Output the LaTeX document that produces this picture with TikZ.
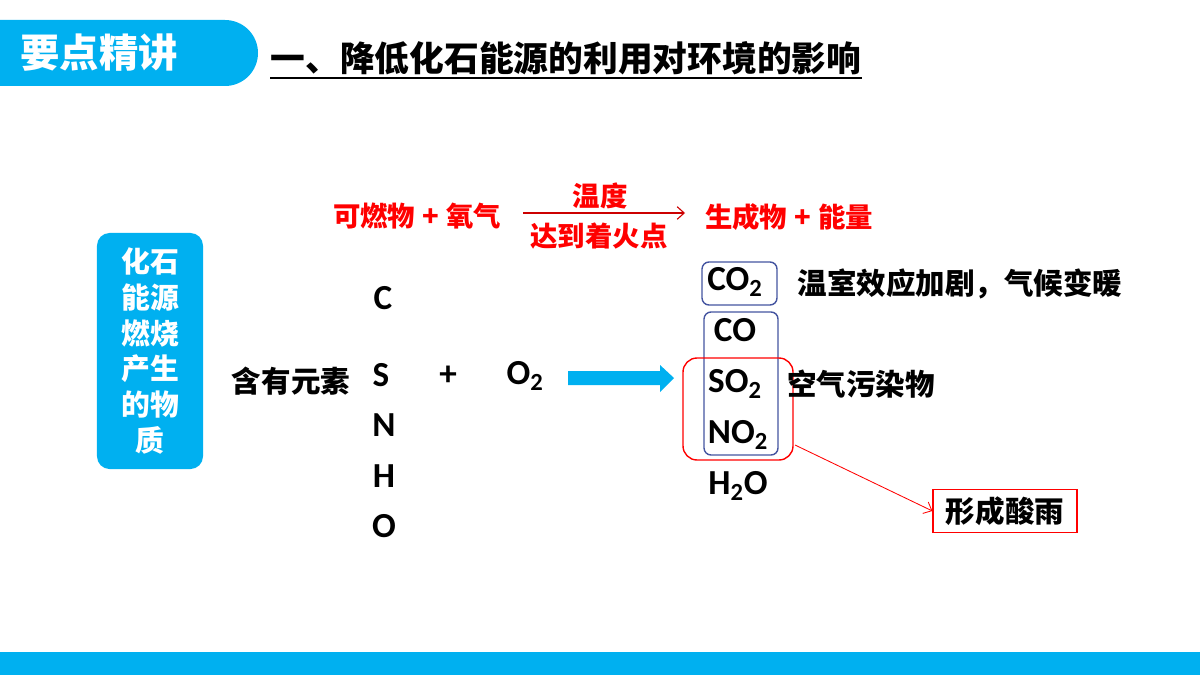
\documentclass[tikz,border=0pt]{standalone}
\usepackage{fontspec}
\setmainfont{Carlito}
\newfontfamily\cjk{Noto Sans CJK SC}
\usetikzlibrary{arrows.meta}
\definecolor{skyblue}{RGB}{0,176,240}
\definecolor{boxblue}{RGB}{68,84,160}
\tikzset{
  cn/.style={font=\cjk\bfseries\fontsize{#1}{#1}\selectfont, inner sep=0pt},
  cn/.default=21,
  red cn/.style={cn=19.5, text=red},
  chem/.style={font=\bfseries\fontsize{25}{25}\selectfont, inner sep=0pt},
  bluebox/.style={draw=boxblue, line width=1pt, rounded corners=5pt},
  redbox/.style={draw=red, line width=1pt, rounded corners=10pt},
}
\begin{document}
\begin{tikzpicture}[x=0.025cm, y=-0.025cm]
		\useasboundingbox (0,0) rectangle (1200,675);
		%%%%% header %%%%%
		\fill[skyblue] (0,20) -- (225,20) arc[start angle=-90, end angle=90, radius=33] -- (0,86) -- cycle;
		\node[cn=28, text=white] (tab) at (99,53) {要点精讲};
		\node[cn=24.7] (heading) at (566,58) {一、降低化石能源的利用对环境的影响};
		\draw[line width=1.5pt] (270,78) -- (862,78);
		
		%%%%% word equation %%%%%
		\node[red cn] (lhs) at (417,216) {可燃物\hspace{5pt}+\hspace{5pt}氧气};
		\node[red cn] (cond1) at (600,196) {温度};
		\node[red cn] (cond2) at (599,236) {达到着火点};
		\coordinate (condfrom) at (523,213);
		\coordinate (condto) at (685,213);
		\draw[red!80!black, line width=0.8pt, -{Straight Barb[length=5pt, width=9pt]}] (condfrom) -- (condto);
		\node[red cn] (rhs) at (789,217) {生成物\hspace{5pt}+\hspace{5pt}能量};
		
		%%%%% left box %%%%%
		\node[fill=skyblue, rounded corners=9pt, minimum width=2.65cm, minimum height=5.9cm,
		  align=center, text=white, font=\cjk\bfseries\fontsize{20.5}{25.5}\selectfont] (src) at (150,351)
		  {化石\\能源\\燃烧\\产生\\的物\\质};
		
		%%%%% elements %%%%%
		\node[cn] (elem) at (291,381) {含有元素};
		\node[chem] (C) at (383,298) {C};
		\node[chem] (S) at (381,375) {S};
		\node[chem] (N) at (384,425) {N};
		\node[chem] (H) at (384,476) {H};
		\node[chem] (O) at (384,526) {O};
		\node[chem] (plus) at (448,376) {+};
		\node[chem] (otwo) at (525,376) {O\textsubscript{2}};
		\fill[skyblue] (568,371) -- (660,371) -- (660,365) -- (674,378) -- (660,392) -- (660,385) -- (568,385) -- cycle;
		
		%%%%% products %%%%%
		\draw[bluebox] (702,262) rectangle (777,305);
		\draw[bluebox] (704,312) rectangle (778,455);
		\draw[redbox] (683,358) rectangle (793,460);
		\node[chem] (co2) at (735,282) {CO\textsubscript{2}};
		\node[chem] (co) at (735,330) {CO};
		\node[chem] (so2) at (735,384) {SO\textsubscript{2}};
		\node[chem] (no2) at (738,435) {NO\textsubscript{2}};
		\node[chem] (h2o) at (738,486) {H\textsubscript{2}O};
		\node[cn] (effect) at (960,284) {温室效应加剧，气候变暖};
		\node[cn] (pollut) at (861,384) {空气污染物};
		
		\node[cn, draw=red, line width=0.8pt, minimum width=3.6cm, minimum height=1.075cm] (acid) at (1005,511) {形成酸雨};
		\coordinate (acidfrom) at (795,445);
		\draw[red, line width=0.6pt, -{Straight Barb[length=5pt, width=9pt]}] (acidfrom) -- (acid.west);
		
		%%%%% bottom bar %%%%%
		\fill[skyblue] (0,652) rectangle (1200,675);
	\end{tikzpicture}
\end{document}
